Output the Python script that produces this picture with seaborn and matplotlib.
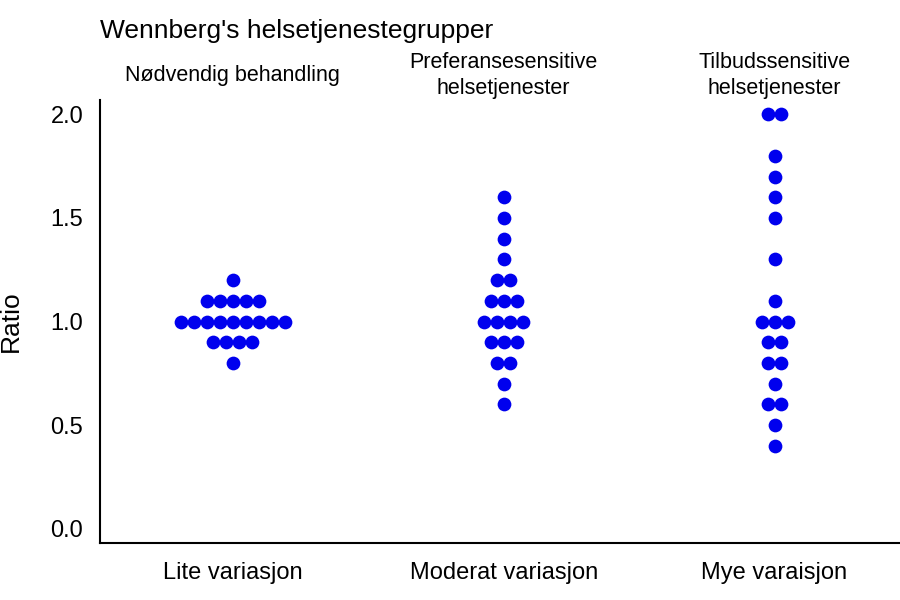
import numpy as np
import pandas as pd
import matplotlib
matplotlib.use('Agg')
import matplotlib.pyplot as plt
import seaborn as sns

groups = ['Lite variasjon', 'Moderat variasjon', 'Mye varaisjon']
subtitles = ['Nødvendig behandling', 'Preferansesensitive\nhelsetjenester',
             'Tilbudssensitive\nhelsetjenester']

lite = [1.2] + [1.1] * 5 + [1.0] * 9 + [0.9] * 4 + [0.8]
moderat = [1.6, 1.5, 1.4, 1.3] + [1.2] * 2 + [1.1] * 3 + [1.0] * 4 + \
    [0.9] * 3 + [0.8] * 2 + [0.7, 0.6]
mye = [2.0, 2.0, 1.8, 1.7, 1.6, 1.5, 1.3, 1.1] + [1.0] * 3 + [0.9] * 2 + \
    [0.8] * 2 + [0.7] + [0.6] * 2 + [0.5, 0.4]

df = pd.DataFrame({
    'gruppe': [groups[0]] * len(lite) + [groups[1]] * len(moderat) + [groups[2]] * len(mye),
    'Ratio': lite + moderat + mye,
})

# centred dot stacking: equal values sit side by side around the group centre
dot_step = 0.048
df['pos'] = df['gruppe'].map({g: i for i, g in enumerate(groups)}).astype(float)
rank = df.groupby(['gruppe', 'Ratio']).cumcount()
count = df.groupby(['gruppe', 'Ratio'])['Ratio'].transform('size')
df['x'] = df['pos'] + (rank - (count - 1) / 2) * dot_step

sns.set_style('white')
plt.rcParams['font.family'] = ['Liberation Sans', 'DejaVu Sans']
plt.rcParams['text.color'] = 'black'

fig = plt.figure(figsize=(9, 6), dpi=100)
ax = fig.add_axes([100 / 900, 57 / 600, 810 / 900, 443 / 600])

sns.scatterplot(data=df, x='x', y='Ratio', color='#0000ee', s=98,
                linewidth=0, ax=ax, legend=False)

ax.set_ylim(-0.07, 2.07)
ax.set_xlim(-0.49, 2.5)
ax.set_xticks(range(len(groups)))
ax.set_xticklabels(groups)
ax.set_yticks([0.0, 0.5, 1.0, 1.5, 2.0])
ax.set_yticklabels(['0.0', '0.5', '1.0', '1.5', '2.0'])
ax.tick_params(axis='both', length=0, labelsize=17, colors='black')
ax.tick_params(axis='y', pad=12)
ax.tick_params(axis='x', pad=14)
ax.set_xlabel('')
ax.set_ylabel('Ratio', fontsize=19, labelpad=20, color='black')

sns.despine(ax=ax)
for side in ['left', 'bottom']:
    ax.spines[side].set_color('black')
    ax.spines[side].set_linewidth(1.5)

fig.text(100 / 900, 1 - 31 / 600, "Wennberg's helsetjenestegrupper",
         fontsize=19, ha='left', va='center')
for i, sub in enumerate(subtitles):
    ax.text(i, 2.19, sub, fontsize=15.5, ha='center', va='center',
            clip_on=False, linespacing=1.3)

fig.savefig('out.png', dpi=100)
